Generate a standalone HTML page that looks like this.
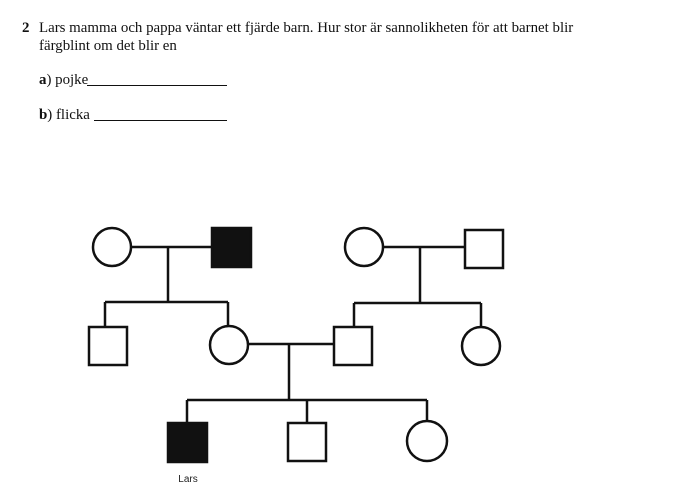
<!DOCTYPE html>
<html><head><meta charset="utf-8"><style>
body{margin:0;width:681px;height:493px;background:#fff;overflow:hidden;font-family:"Liberation Serif",serif;color:#111}
.t{position:absolute;font-size:14.9px;white-space:nowrap}
</style></head><body>
<div class="t" style="left:22px;top:20px"><b>2</b></div>
<div class="t" style="left:39px;top:20px">Lars mamma och pappa väntar ett fjärde barn. Hur stor är sannolikheten för att barnet blir</div>
<div class="t" style="left:39px;top:38px">färgblint om det blir en</div>
<div class="t" style="left:39px;top:72px"><b>a</b>) pojke</div>
<div class="t" style="left:39px;top:107px"><b>b</b>) flicka</div>
<svg width="681" height="493" style="position:absolute;left:0;top:0" xmlns="http://www.w3.org/2000/svg">
<g stroke="#111" stroke-width="1"><line x1="87" y1="85.5" x2="227" y2="85.5"/><line x1="94" y1="120.5" x2="227" y2="120.5"/></g>
<g stroke="#111" stroke-width="2.5" fill="none">
<line x1="131" y1="247" x2="212" y2="247"/><line x1="168" y1="247" x2="168" y2="302"/><line x1="105" y1="302" x2="228" y2="302"/>
<line x1="105" y1="302" x2="105" y2="327"/><line x1="228" y1="302" x2="228" y2="326"/>
<line x1="383" y1="247" x2="465" y2="247"/><line x1="420" y1="247" x2="420" y2="303"/><line x1="354" y1="303" x2="481" y2="303"/>
<line x1="354" y1="303" x2="354" y2="327"/><line x1="481" y1="303" x2="481" y2="327"/>
<line x1="248" y1="344" x2="334" y2="344"/><line x1="289" y1="344" x2="289" y2="400"/><line x1="187" y1="400" x2="427" y2="400"/>
<line x1="187" y1="400" x2="187" y2="422"/><line x1="307" y1="400" x2="307" y2="423"/><line x1="427" y1="400" x2="427" y2="421"/>
<circle cx="112" cy="247" r="19"/>
<rect x="212" y="228" width="39" height="39" fill="#111"/>
<circle cx="364" cy="247" r="19"/>
<rect x="465" y="230" width="38" height="38"/>
<rect x="89" y="327" width="38" height="38"/>
<circle cx="229" cy="345" r="19"/>
<rect x="334" y="327" width="38" height="38"/>
<circle cx="481" cy="346" r="19"/>
<rect x="168" y="423" width="39" height="39" fill="#111"/>
<rect x="288" y="423" width="38" height="38"/>
<circle cx="427" cy="441" r="20"/>
</g>
<text x="188" y="482" font-family="Liberation Sans, sans-serif" font-size="10" text-anchor="middle" fill="#222">Lars</text>
</svg>
</body></html>
